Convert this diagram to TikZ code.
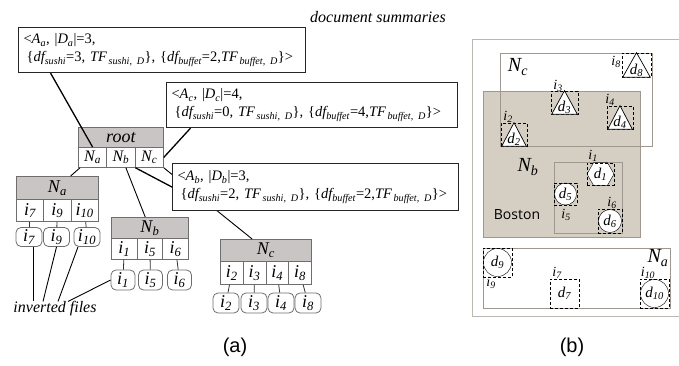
\documentclass[tikz,border=0pt]{standalone}
\usepackage{fontspec}
\setmainfont{Liberation Serif}
\newfontfamily\capfont{Liberation Sans}
\newfontfamily\mapfont{Open Sans}
\usetikzlibrary{positioning,calc,shapes.geometric}
\definecolor{hdrgray}{HTML}{C9C5C5}
\definecolor{linegray}{HTML}{6E6E6E}
\definecolor{nbfill}{HTML}{D5CFC3}
\definecolor{panelgray}{HTML}{9E9890}
\newcommand{\ix}[2]{\textit{#1\textsubscript{#2}}}
\newcommand{\summ}[4]{<\ix{A}{#1}, |\ix{D}{#1}|=#2,\\\hspace*{3pt}\{\ix{df}{sushi}=#3, \ix{TF}{\,sushi, D}\}, \{\ix{df}{buffet}=#4,\ix{TF}{\,buffet, D}\}>}
\newcommand{\tridoc}[6]{%
  \node[dbox, minimum width=#4, minimum height=#5] (#1) at (#2,#3) {};
  \draw[fill=white, line width=0.7pt] ([xshift=1pt]#1.south west) -- ([xshift=-1pt]#1.south east) -- (#1.north) -- cycle;
  \node[dlab] (#1l) at ([yshift=-5pt]#1.center) {\ix{d}{#6}};
}
\tikzset{
  hdr/.style={draw=linegray, line width=0.8pt, fill=hdrgray, inner sep=0pt, anchor=north west, font=\fontsize{18}{18}\selectfont\itshape},
  cell/.style={draw=linegray, line width=0.8pt, fill=white, inner sep=0pt, anchor=north west, font=\fontsize{18}{18}\selectfont},
  invfile/.style={draw=linegray, line width=0.8pt, fill=white, rounded corners=5pt, inner sep=0pt, minimum height=19pt, font=\fontsize{18}{18}\selectfont},
  sumbox/.style={draw=black!85, line width=1.1pt, fill=white, anchor=north west, align=left, inner xsep=5pt, font=\fontsize{14.5}{18}\selectfont},
  link/.style={line width=0.9pt},
  sumlink/.style={line width=1.3pt},
  celllink/.style={draw=black!80, line width=0.8pt},
  region/.style={draw=panelgray, line width=0.8pt},
  dbox/.style={draw, dash pattern=on 3pt off 2pt, line width=0.7pt, inner sep=0pt},
  dlab/.style={font=\fontsize{15}{15}\selectfont, inner sep=0pt},
  ilab/.style={font=\fontsize{14}{14}\selectfont, inner sep=0pt},
  nlab/.style={font=\fontsize{20}{20}\selectfont, inner sep=0pt},
  caption/.style={font=\fontsize{20}{20}\selectfont\capfont}
}
\begin{document}
\begin{tikzpicture}[x=1pt,y=-1pt]
  \useasboundingbox (0,0) rectangle (679,366);
  % R-tree nodes
  \node[hdr, minimum width=85, minimum height=20] (root) at (78,127) {root};
  \foreach \c [count=\k] in {a,b,c}
    \node[cell, minimum width=28.33, minimum height=20] (root\c) at ({78+28.33*(\k-1)},147) {\fontsize{16}{16}\selectfont\ix{N}{\c}};
  \node[hdr, minimum width=82, minimum height=23] (na) at (16,176) {\ix{N}{a}};
  \foreach \n/\x [count=\k] in {7/29,9/56.5,10/87} {
    \node[cell, minimum width=27.33, minimum height=22] (na\k) at ({16+27.33*(\k-1)},199) {\ix{i}{\n}};
    \node[invfile, minimum width=26] (fa\k) at (\x,237) {\ix{i}{\n}};
    \draw[celllink] (na\k) -- (fa\k);
  }
  \node[hdr, minimum width=77, minimum height=21] (nb) at (111,217) {\ix{N}{b}};
  \foreach \n/\x [count=\k] in {1/123,5/150.5,6/179.5} {
    \node[cell, minimum width=25.67, minimum height=21] (nb\k) at ({111+25.67*(\k-1)},238) {\ix{i}{\n}};
    \node[invfile, minimum width=24, minimum height=20] (fb\k) at (\x,280) {\ix{i}{\n}};
    \draw[celllink] (nb\k) -- (fb\k);
  }
  \node[hdr, minimum width=91, minimum height=22] (nc) at (220,239) {\ix{N}{c}};
  \foreach \n/\x [count=\k] in {2/226,3/254,4/281,8/308} {
    \node[cell, minimum width=22.75, minimum height=23] (nc\k) at ({220+22.75*(\k-1)},261) {\ix{i}{\n}};
    \node[invfile, minimum width=26, minimum height=20] (fc\k) at (\x,303) {\ix{i}{\n}};
    \draw[celllink] (nc\k) -- (fc\k);
  }
  \draw[link] ([xshift=2]roota.south west) -- ($(na.north west)!.66!(na.north east)$);
  \draw[link] ([xshift=5]rootb.south) -- ($(nb.north west)!.44!(nb.north east)$);
  \draw[link] (rootc.south east) -- ($(nc.north west)!.35!(nc.north east)$);
  % document summaries
  \node[font=\fontsize{16}{16}\selectfont\itshape, inner sep=0] (docsum) at (378,17) {document summaries};
  \node[sumbox, text width=277, minimum height=45] (suma) at (18,27) {\summ{a}{3}{3}{2}};
  \node[sumbox, text width=281, minimum height=45] (sumc) at (166,82) {\summ{c}{4}{0}{4}};
  \node[sumbox, text width=276, minimum height=47] (sumb) at (172,163) {\summ{b}{3}{2}{2}};
  \draw[sumlink] ([xshift=-111.5]suma.south) -- (roota.north);
  \draw[sumlink] ([xshift=-121.5]sumc.south) -- (rootc.east);
  \draw[sumlink] (rootb.south east) -- (sumb.west);
  % inverted files
  \node[font=\fontsize{16}{16}\selectfont\itshape, inner sep=0] (inv) at (55,309) {inverted files};
  \draw[link] ([xshift=-22]inv.north) -- ([xshift=4]fa1.south);
  \draw[link] ([xshift=-12]inv.north) -- (fa2.south);
  \draw[link] ([xshift=3]inv.north) -- ([xshift=-9]fa3.south);
  \draw[link] ([xshift=13]inv.north) -- (fb1.west);
  \node[caption] (capa) at (235,347) {(a)};
  % map of the regions
  \draw[region, draw=panelgray!70] (472,39) rectangle (684,316);
  \fill[nbfill] (483,91) rectangle (640,237);
  \draw[region] (483,91) rectangle (640,237);
  \draw[region] (500,53) rectangle (652,146);
  \draw[region] (554,162) rectangle (622,233);
  \draw[region] (483,248) rectangle (670,308);
  \node[nlab] (lnc) at (518,67) {\ix{N}{c}};
  \node[nlab] (lnb) at (528,167) {\ix{N}{b}};
  \node[nlab] (lna) at (658,258) {\ix{N}{a}};
  \node[font=\fontsize{14}{14}\selectfont\mapfont, inner sep=0] (boston) at (517,215) {Boston};
  \tridoc{d8}{636.5}{65}{29}{24}{8}
  \tridoc{d3}{564.5}{102.5}{27}{23}{3}
  \tridoc{d4}{620}{117.5}{26}{23}{4}
  \tridoc{d2}{514}{134.5}{26}{23}{2}
  \node[regular polygon, regular polygon sides=6, draw, fill=white, minimum size=27, inner sep=0, dlab] (d1) at (600.5,174) {\ix{d}{1}};
  \node[dbox, minimum width=27, minimum height=22] (b1) at (d1) {};
  \node[circle, draw, fill=white, minimum size=22, inner sep=0, dlab] (d5) at (565.5,194) {\ix{d}{5}};
  \node[dbox, minimum width=23, minimum height=22] (b5) at (d5) {};
  \node[circle, draw, fill=white, minimum size=23, inner sep=0, dlab] (d6) at (610,221) {\ix{d}{6}};
  \node[dbox, minimum width=24, minimum height=24] (b6) at (d6) {};
  \node[circle, draw, fill=white, minimum size=28, inner sep=0, dlab] (d9) at (497.5,262.5) {\ix{d}{9}};
  \node[dbox, minimum width=29, minimum height=29] (b9) at (d9) {};
  \node[dbox, fill=white, minimum width=29, minimum height=29, dlab] (d7) at (564.5,293.5) {\ix{d}{7}};
  \node[circle, draw, fill=white, minimum size=28, inner sep=0, dlab] (d10) at (654.5,293.5) {\ix{d}{10}};
  \node[dbox, minimum width=29, minimum height=29] (b10) at (d10) {};
  \node[ilab] (i8) at (616,62) {\ix{i}{8}};
  \node[ilab] (i3) at (558,86) {\ix{i}{3}};
  \node[ilab] (i4) at (610,100) {\ix{i}{4}};
  \node[ilab] (i2) at (508,117) {\ix{i}{2}};
  \node[ilab] (i1) at (593,156) {\ix{i}{1}};
  \node[ilab] (i5) at (566,215) {\ix{i}{5}};
  \node[ilab] (i6) at (612,203) {\ix{i}{6}};
  \node[ilab] (i9) at (491,283) {\ix{i}{9}};
  \node[ilab] (i7) at (557,273) {\ix{i}{7}};
  \node[ilab] (i10) at (648,273) {\ix{i}{10}};
  \node[caption] (capb) at (572,347) {(b)};
\end{tikzpicture}
\end{document}
